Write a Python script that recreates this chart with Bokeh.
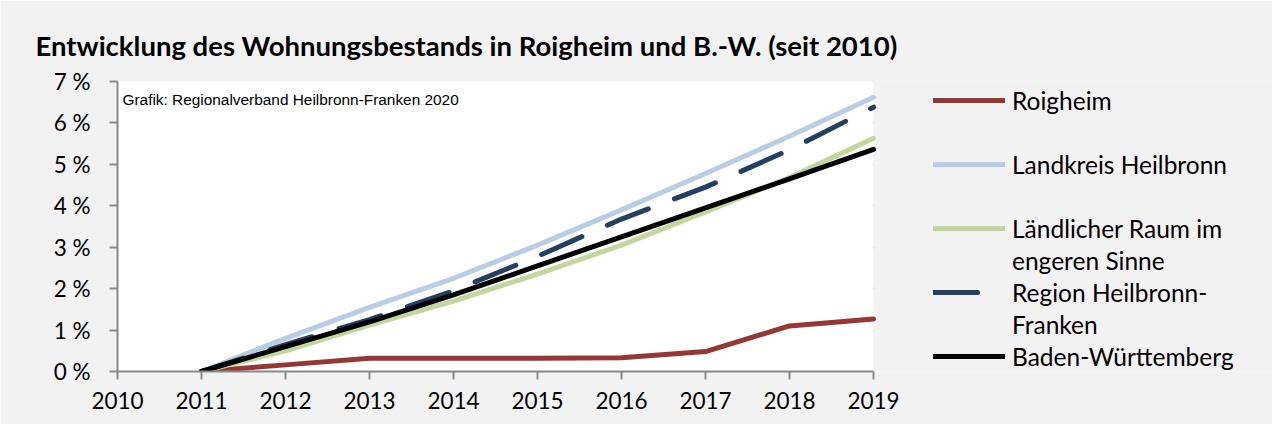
from bokeh.plotting import figure
from bokeh.models import Range1d, FixedTicker, Label, Legend, LegendItem, BoxAnnotation, Grid
from bokeh.embed import file_html
from bokeh.resources import INLINE

# ---- data ----
years = [2011, 2012, 2013, 2014, 2015, 2016, 2017, 2018, 2019]
roigheim = [0.0, 0.16, 0.32, 0.32, 0.32, 0.33, 0.48, 1.10, 1.27]
landkreis = [0.0, 0.80, 1.55, 2.25, 3.05, 3.90, 4.78, 5.68, 6.62]
laendlich = [0.0, 0.50, 1.12, 1.70, 2.35, 3.05, 3.85, 4.68, 5.63]
region = [0.0, 0.65, 1.25, 1.95, 2.78, 3.68, 4.45, 5.35, 6.38]
bw = [0.0, 0.60, 1.20, 1.85, 2.55, 3.25, 3.95, 4.65, 5.36]

series_names = ["Roigheim", "Landkreis Heilbronn", "Ländlicher Raum im", "Region Heilbronn-", "Baden-Württemberg"]
series_values = [roigheim, landkreis, laendlich, region, bw]
series_colors = ["#953735", "#b9cde5", "#c3d69b", "#243f60", "#000000"]
series_dash = ["solid", "solid", "solid", "44 28", "solid"]
# text of the row that follows each legend entry (" " = empty row, None = no row)
label_second_rows = [" ", " ", "engeren Sinne", "Franken", None]

x_ticks = [2010, 2011, 2012, 2013, 2014, 2015, 2016, 2017, 2018, 2019]
y_ticks = [0, 1, 2, 3, 4, 5, 6, 7]
y_tick_labels = ["0 %", "1 %", "2 %", "3 %", "4 %", "5 %", "6 %", "7 %"]

title_text = "Entwicklung des Wohnungsbestands in Roigheim und B.-W. (seit 2010)"
source_text = "Grafik: Regionalverband Heilbronn-Franken 2020"

FONT = "Lato"
GRID = "#898989"
BG = "#f2f2f2"

# layout (pixels): plot area 756 px wide for 2010..2019; the frame is extended to the
# right edge so the legend can live inside it
W, H = 1272, 424
LEFT, TOP, BOTTOM = 117, 81, 53
PLOT_W = 756
x0, x1 = x_ticks[0], x_ticks[-1]
x_end = x0 + (x1 - x0) * (W - LEFT) / PLOT_W

p = figure(width=W, height=H, output_backend="svg", toolbar_location=None,
           x_range=Range1d(x0, x_end), y_range=Range1d(y_ticks[0], y_ticks[-1]),
           min_border_left=LEFT, min_border_right=0, min_border_top=TOP, min_border_bottom=BOTTOM)
p.background_fill_color = BG
p.border_fill_color = BG
p.outline_line_color = None

# white plot area
p.add_layout(BoxAnnotation(left=x0, right=x1, bottom=y_ticks[0], top=y_ticks[-1],
                           fill_color="#ffffff", fill_alpha=1, line_color=None, level="underlay"))

p.title.text = title_text
p.title.align = "left"
p.title.offset = -82
p.title.standoff = 39
p.title.text_font = FONT
p.title.text_font_style = "bold"
p.title.text_font_size = "27.5px"
p.title.text_color = "#000000"

p.xgrid.grid_line_color = None
p.ygrid.grid_line_color = GRID
p.ygrid.grid_line_width = 2
p.ygrid.ticker = FixedTicker(ticks=y_ticks)
if "cross_bounds" in Grid.properties():
    p.ygrid.cross_bounds = (x0, x1)
else:
    # hide the grid lines right of the plot area
    p.add_layout(BoxAnnotation(left=x1 + 0.04, right=x_end, fill_color=BG, fill_alpha=1,
                               line_color=None, level="glyph"))

for ax in (p.xaxis[0], p.yaxis[0]):
    ax.axis_line_color = GRID
    ax.axis_line_width = 2
    ax.major_tick_line_color = GRID
    ax.major_tick_line_width = 2
    ax.major_tick_out = 8
    ax.major_tick_in = 0
    ax.minor_tick_line_color = None
    ax.major_label_text_font = FONT
    ax.major_label_text_font_size = "22.5px"
    ax.major_label_text_color = "#000000"

p.xaxis.ticker = FixedTicker(ticks=x_ticks)
p.xaxis.bounds = (x0, x1)
p.xaxis.major_label_standoff = 12
p.yaxis.ticker = FixedTicker(ticks=y_ticks)
p.yaxis.major_label_overrides = {t: lab for t, lab in zip(y_ticks, y_tick_labels)}
p.yaxis.major_label_standoff = 19

renderers = []
for name, vals, col, dash in zip(series_names, series_values, series_colors, series_dash):
    r = p.line(years, vals, line_color=col, line_width=5, line_dash=dash,
               line_cap="round", line_join="round")
    renderers.append(r)

# legend: one row per text line, so wrapped labels keep the glyph on the first line
items = []
for name, r, second in zip(series_names, renderers, label_second_rows):
    items.append(LegendItem(label=name, renderers=[r]))
    if second is not None:
        ghost = p.line([], [], line_alpha=0)
        items.append(LegendItem(label=second, renderers=[ghost]))

legend = Legend(items=items, location=(816, 0), orientation="vertical",
                glyph_width=72, glyph_height=30, label_height=30, spacing=2,
                padding=0, margin=0, label_standoff=7,
                label_text_font=FONT, label_text_font_size="24.5px", label_text_color="#000000",
                border_line_color=None, background_fill_alpha=0)
p.add_layout(legend, "center")

p.add_layout(Label(x=5, y=272, x_units="screen", y_units="screen", text=source_text,
                   text_font="Liberation Sans", text_font_size="15.4px",
                   text_baseline="middle", text_color="#000000"))

open("out.html", "w").write(file_html(p, INLINE))
